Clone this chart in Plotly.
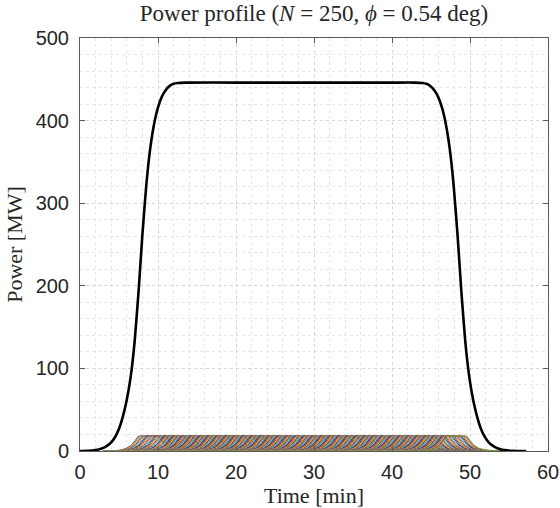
import numpy as np
import plotly.graph_objects as go

# ---- Aggregate (black) power profile ----
total_t = [0, 1, 2, 2.5, 3, 3.5, 4, 4.5, 5, 5.5, 6, 6.5, 7, 7.5, 8, 8.5, 9, 9.5, 10,
           10.5, 11, 11.5, 12, 12.5, 13.5, 20, 30, 40, 42.9, 43.9, 44.4, 44.9, 45.4,
           45.9, 46.4, 46.9, 47.4, 47.9, 48.4, 48.9, 49.4, 49.9, 50.4, 50.9, 51.4,
           51.9, 52.4, 52.9, 53.4, 53.9, 54.4, 55.4, 56.4, 57.2]
total_p = [0, 0.3, 1.2, 2.2, 3.8, 6.5, 10.5, 17, 27, 42, 62, 90, 132, 192, 262, 322,
           366, 396, 416, 429, 437, 442, 444.5, 445.5, 446, 446, 446, 446, 446, 445.5,
           444.5, 442, 437, 429, 416, 396, 366, 322, 262, 192, 132, 90, 62, 42, 27,
           17, 10.5, 6.5, 3.8, 2.2, 1.2, 0.3, 0.05, 0]

# ---- Individual unit profile (one unit) ----
n_units = 250
unit_peak = 18.0
rise_dt = [0, 1.0, 1.8, 2.5, 3.0, 3.4]          # min after unit onset
rise_frac = [0, 0.055, 0.17, 0.39, 0.72, 1.0]
plateau_len = 2.5                               # min at peak
fall_dt = [0, 0.4, 0.9, 1.6, 2.6, 4.2]          # min after plateau end
fall_frac = [1.0, 0.72, 0.39, 0.17, 0.055, 0]
first_onset = 4.1
last_onset = 43.7
window = [3.0, 54.5]                            # time span each unit trace covers

matlab_colors = ['#0072BD', '#D95319', '#EDB120', '#7E2F8E', '#77AC30', '#4DBEEE', '#A2142F']

fig = go.Figure()

onsets = np.linspace(first_onset, last_onset, n_units)
for i, s in enumerate(onsets):
    xs = [window[0]] + [s + d for d in rise_dt] + \
         [s + rise_dt[-1] + plateau_len + d for d in fall_dt] + [window[1]]
    ys = [0] + [unit_peak * f for f in rise_frac] + [unit_peak * f for f in fall_frac] + [0]
    fig.add_trace(go.Scatter(x=xs, y=ys, mode='lines',
                             line=dict(color=matlab_colors[i % 7], width=1),
                             hoverinfo='skip', showlegend=False))

fig.add_trace(go.Scatter(x=total_t, y=total_p, mode='lines',
                         line=dict(color='black', width=2.6, shape='spline', smoothing=0.5),
                         showlegend=False))

serif = 'Liberation Serif'
sans = 'Liberation Sans'
axis_common = dict(
    showline=True, linecolor='#5a5a5a', linewidth=1, mirror='ticks',
    ticks='inside', ticklen=5, tickcolor='#5a5a5a', tickwidth=1,
    showgrid=True, gridcolor='#d6d6d6', griddash='dot', gridwidth=1,
    zeroline=False, automargin=False,
    tickfont=dict(family=sans, size=20, color='#262626'),
    minor=dict(showgrid=True, gridcolor='#e6e6e6', griddash='dot', gridwidth=1, ticks=''),
)

fig.update_layout(
    width=560, height=508,
    margin=dict(l=80, r=12, t=38, b=57),
    paper_bgcolor='white', plot_bgcolor='white',
    title=dict(text='Power profile (<i>N</i> = 250, <i>ϕ</i> = 0.54 deg)',
               font=dict(family=serif, size=23, color='#262626'),
               x=0.5, xref='paper', xanchor='center',
               y=1 - 13 / 508, yref='container', yanchor='middle'),
    xaxis=dict(range=[0, 60], dtick=10, tick0=0,
               title=dict(text='Time [min]', font=dict(family=serif, size=22, color='#262626'),
                          standoff=4),
               ticklabelstandoff=3, **axis_common),
    yaxis=dict(range=[0, 500], dtick=100, tick0=0,
               title=dict(text='Power [MW]', font=dict(family=serif, size=22, color='#262626'),
                          standoff=6),
               ticklabelstandoff=6, **axis_common),
)
fig.update_xaxes(minor_dtick=2)
fig.update_yaxes(minor_dtick=20)

fig.write_html('out.html')
